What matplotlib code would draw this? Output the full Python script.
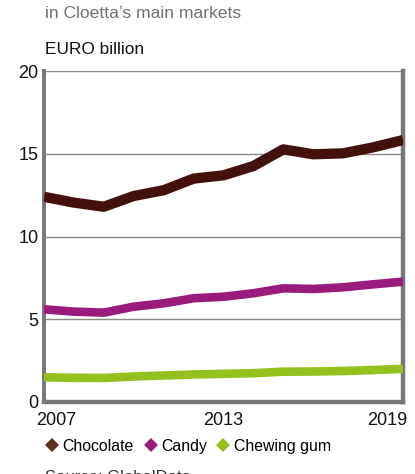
import numpy as np
import matplotlib.pyplot as plt
import matplotlib.transforms as mtransforms
from matplotlib.lines import Line2D

plt.rcParams['font.family'] = ['Liberation Sans', 'DejaVu Sans']

# market value, EURO billion
years = np.arange(2007, 2020)
chocolate = [12.4, 12.05, 11.8, 12.45, 12.8, 13.5, 13.7, 14.26, 15.27, 14.97, 15.03, 15.39, 15.83]
candy = [5.6, 5.46, 5.4, 5.76, 5.96, 6.27, 6.36, 6.57, 6.87, 6.83, 6.93, 7.11, 7.27]
gum = [1.49, 1.46, 1.45, 1.54, 1.6, 1.66, 1.7, 1.74, 1.83, 1.84, 1.87, 1.93, 2.0]

series = [("Chocolate", chocolate, "#43100d", "#5c2e1b", 7.4),
          ("Candy", candy, "#991c7d", "#991c7d", 6.2),
          ("Chewing gum", gum, "#95c11f", "#95c11f", 6.2)]

fig = plt.figure(figsize=(4.15, 4.74), dpi=100)
ax = fig.add_axes([0.106, 0.152, 0.865, 0.698])

for name, vals, col, mcol, lw in series:
    ax.plot(years, vals, color=col, lw=lw, solid_capstyle='butt',
            solid_joinstyle='round', zorder=3)

ax.set_xlim(2007, 2019)
ax.set_ylim(0, 20)
ax.set_yticks([0, 5, 10, 15, 20])
ax.set_xticks([2007, 2013, 2019])
ax.yaxis.grid(True, color='#8a8a8a', lw=1.0)
ax.tick_params(length=0, labelsize=13, colors='#111111')
ax.tick_params(axis='y', pad=4)
ax.tick_params(axis='x', pad=7)

# nudge the end year labels so they hug the frame corners
xlabels = ax.get_xticklabels()
xlabels[0].set_ha('left')
xlabels[0].set_transform(xlabels[0].get_transform() +
                         mtransforms.ScaledTranslation(-8 / 100, 0, fig.dpi_scale_trans))
xlabels[-1].set_ha('right')
xlabels[-1].set_transform(xlabels[-1].get_transform() +
                          mtransforms.ScaledTranslation(4 / 100, 0, fig.dpi_scale_trans))

for side in ['left', 'right', 'bottom']:
    ax.spines[side].set_color('#777777')
    ax.spines[side].set_linewidth(3.2)
ax.spines['top'].set_visible(False)
ax.spines['left'].set_linewidth(2.8)

fig.text(0.108, 0.972, "in Cloetta\u2019s main markets", fontsize=12.6,
         color='#707070', va='center', ha='left')
fig.text(0.108, 0.895, "EURO billion", fontsize=12.4, color='#111111',
         va='center', ha='left')

handles = [Line2D([], [], ls='none', marker='D', ms=7, color=mcol,
                  markeredgewidth=0) for _, _, _, mcol, _ in series]
fig.legend(handles, [s[0] for s in series], loc='center left',
           bbox_to_anchor=(0.088, 0.059), ncol=3, frameon=False,
           fontsize=11.4, handletextpad=0.05, columnspacing=0.45,
           handlelength=1.2, borderaxespad=0)

fig.text(0.108, -0.008, "Source: GlobalData", fontsize=12, color='#333333',
         va='center', ha='left')

fig.savefig("out.png", dpi=100)
